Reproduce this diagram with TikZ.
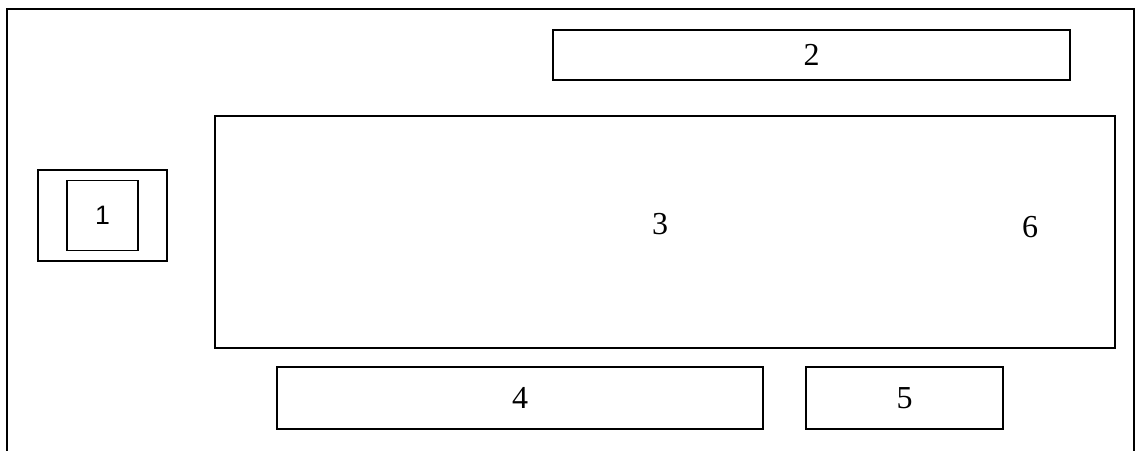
\documentclass[tikz,border=0pt]{standalone}
\usepackage{fontspec}
\setmainfont{Liberation Serif}
\newfontfamily\arialfont{Liberation Sans}
\begin{document}
\begin{tikzpicture}[x=0.75pt,y=-0.75pt,
    caja/.style={draw, line width=1.2pt, inner sep=0pt,
      font=\fontsize{24}{26}\selectfont}]
        % Marco de la pagina
        \useasboundingbox (0,0) rectangle (1137,450);
        \draw[line width=1.2pt] (7,452) -- (7,9) -- (1134,9) -- (1134,452);
        % Bloque 1
        \node[caja, minimum width=129*0.75pt, minimum height=91*0.75pt] (b1) at (102.5,215.5) {};
        \node[caja, minimum width=71*0.75pt, minimum height=70*0.75pt,
          font=\arialfont\fontsize{20}{22}\selectfont] (b1in) at (102.5,215.5) {1};
        % Bloque 2
        \node[caja, minimum width=517*0.75pt, minimum height=50*0.75pt] (b2) at (811.5,55) {2};
        % Bloque 3 con la etiqueta 6
        \node[caja, minimum width=900*0.75pt, minimum height=232*0.75pt] (b3) at (665,232) {};
        \node[font=\fontsize{24}{26}\selectfont] (t3) at (660,224) {3};
        \node[font=\fontsize{24}{26}\selectfont] (t6) at (1030,227) {6};
        % Bloques 4 y 5
        \node[caja, minimum width=486*0.75pt, minimum height=62*0.75pt] (b4) at (520,398) {4};
        \node[caja, minimum width=197*0.75pt, minimum height=62*0.75pt] (b5) at (904.5,398) {5};
    \end{tikzpicture}
\end{document}
